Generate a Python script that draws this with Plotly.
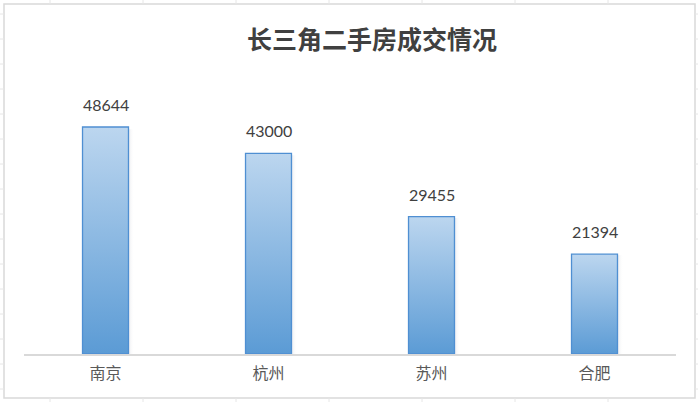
import plotly.graph_objects as go

# data
cities = ["南京", "杭州", "苏州", "合肥"]
deals = [48644, 43000, 29455, 21394]
title = "长三角二手房成交情况"

W, H = 698, 402
L, R, T, B = 24, 22, 74, 48
ymax = 60000
half = 0.141  # half bar width in category units

fig = go.Figure()

for i, (c, v) in enumerate(zip(cities, deals)):
    # soft shadow on the right side
    fig.add_trace(go.Scatter(
        x=[i + half, i + half + 0.035, i + half + 0.035, i + half, i + half],
        y=[0, 0, v * 0.99, v * 0.99, 0],
        mode="lines", line=dict(width=0),
        fill="toself",
        fillgradient=dict(type="horizontal",
                          colorscale=[[0, "rgba(120,130,150,0.16)"], [1, "rgba(255,255,255,0)"]]),
        hoverinfo="skip", showlegend=False))
    # gradient bar
    fig.add_trace(go.Scatter(
        x=[i - half, i + half, i + half, i - half, i - half],
        y=[0, 0, v, v, 0],
        mode="lines", line=dict(color="#4f8fd2", width=1.3),
        fill="toself",
        fillgradient=dict(type="vertical",
                          colorscale=[[0, "#5b9bd5"], [1, "#bcd6ef"]]),
        name=c, hoverinfo="skip", showlegend=False))
    fig.add_annotation(x=i, y=v, text=str(v), showarrow=False,
                       yanchor="bottom", yshift=11,
                       font=dict(size=16, color="#404040", family="Lato, Noto Sans CJK SC"))

# chart border and faint sheet gridlines around it
pw, ph = W - L - R, H - T - B
px = lambda p: (p - L) / pw
py = lambda p: (H - B - p) / ph
fig.add_shape(type="rect", xref="paper", yref="paper",
              x0=px(4), x1=px(695), y0=py(398), y1=py(4),
              line=dict(color="#d9d9d9", width=1.5), layer="below")
for gy in range(14, 402, 25):
    fig.add_shape(type="line", xref="paper", yref="paper",
                  x0=px(0), x1=px(4), y0=py(gy), y1=py(gy),
                  line=dict(color="#e6e6e6", width=1))
    fig.add_shape(type="line", xref="paper", yref="paper",
                  x0=px(695), x1=px(698), y0=py(gy), y1=py(gy),
                  line=dict(color="#e6e6e6", width=1))
for gx in range(50, 698, 93):
    for y0, y1 in [(0, 4), (398, 402)]:
        fig.add_shape(type="line", xref="paper", yref="paper",
                      x0=px(gx), x1=px(gx), y0=py(y0), y1=py(y1),
                      line=dict(color="#e6e6e6", width=1))

fig.update_layout(
    width=W, height=H,
    margin=dict(l=L, r=R, t=T, b=B),
    paper_bgcolor="white", plot_bgcolor="white",
    title=dict(text="<b>" + title + "</b>", x=(372 / W), xanchor="center",
               y=1 - 40 / H, yanchor="middle",
               font=dict(size=25, color="#404040", family="Noto Sans CJK SC")),
    xaxis=dict(range=[-0.5, 3.5], tickvals=list(range(len(cities))), ticktext=cities,
               showgrid=False, zeroline=False, showline=True, linecolor="#d9d9d9",
               linewidth=1.5, ticks="", ticklen=0, ticklabelstandoff=4,
               tickfont=dict(size=16, color="#595959", family="Noto Sans CJK SC")),
    yaxis=dict(range=[0, ymax], visible=False),
    font=dict(family="Noto Sans CJK SC"),
)

# page body has a default 8px margin; drop it so the chart sits at the window corner
fig.write_html("out.html", config={"displayModeBar": False},
               post_script="document.body.style.margin='0';")
